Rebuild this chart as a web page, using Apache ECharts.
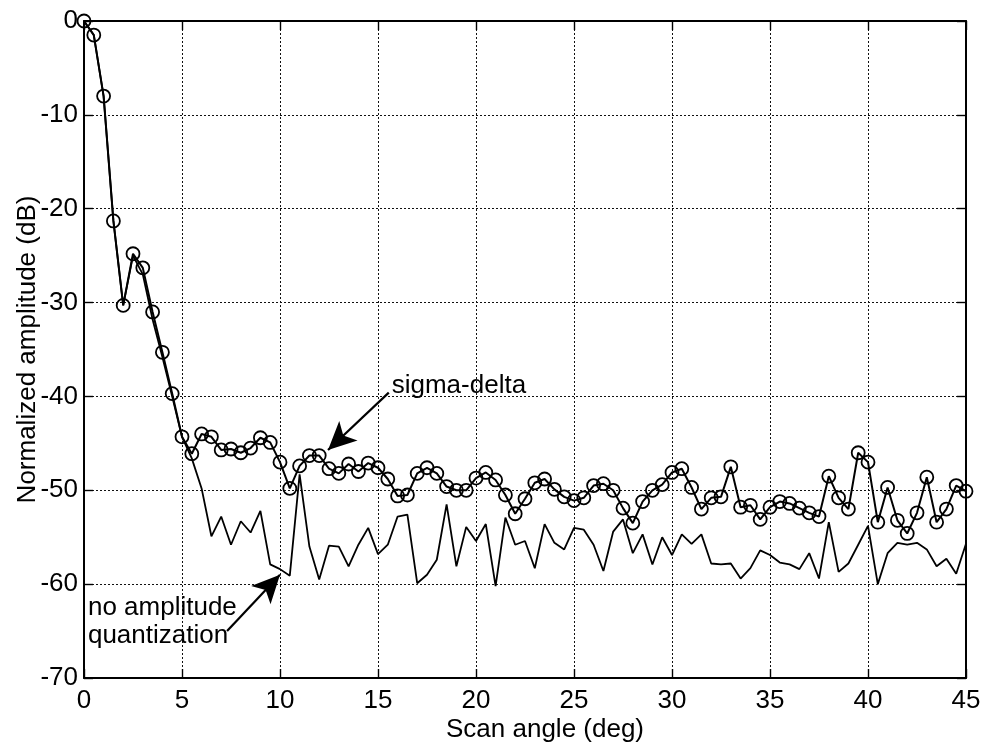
<!DOCTYPE html>
<html>
<head>
<meta charset="utf-8">
<script src="https://cdn.jsdelivr.net/npm/echarts@6/dist/echarts.min.js"></script>
<style>
html,body{margin:0;padding:0;background:#fff;}
#chart{width:988px;height:743px;}
</style>
</head>
<body>
<div id="chart"></div>
<script>
// Scan angle (deg)
const angles = [0,0.5,1,1.5,2,2.5,3,3.5,4,4.5,5,5.5,6,6.5,7,7.5,8,8.5,9,9.5,10,10.5,11,11.5,12,12.5,13,13.5,14,14.5,15,15.5,16,16.5,17,17.5,18,18.5,19,19.5,20,20.5,21,21.5,22,22.5,23,23.5,24,24.5,25,25.5,26,26.5,27,27.5,28,28.5,29,29.5,30,30.5,31,31.5,32,32.5,33,33.5,34,34.5,35,35.5,36,36.5,37,37.5,38,38.5,39,39.5,40,40.5,41,41.5,42,42.5,43,43.5,44,44.5,45];
// sigma-delta (circles)
const sigmaDelta = [0,-1.5,-8.0,-21.3,-30.3,-24.8,-26.3,-31.0,-35.3,-39.7,-44.3,-46.1,-44.0,-44.3,-45.7,-45.6,-46.0,-45.5,-44.4,-44.9,-47.0,-49.8,-47.4,-46.3,-46.3,-47.7,-48.2,-47.2,-48.0,-47.1,-47.6,-48.8,-50.6,-50.5,-48.2,-47.6,-48.2,-49.6,-50.0,-50.0,-48.7,-48.1,-48.9,-50.5,-52.5,-50.9,-49.2,-48.8,-49.9,-50.7,-51.1,-50.8,-49.5,-49.3,-50.0,-51.9,-53.5,-51.2,-50.0,-49.4,-48.1,-47.7,-49.7,-52.0,-50.8,-50.7,-47.5,-51.8,-51.6,-53.1,-51.8,-51.2,-51.4,-51.9,-52.4,-52.8,-48.5,-50.8,-52.0,-46.0,-47.0,-53.4,-49.7,-53.2,-54.6,-52.4,-48.6,-53.4,-52.0,-49.5,-50.1];
// no amplitude quantization (plain line)
const noQuant = [0,-1.5,-8.0,-21.3,-30.3,-25.0,-27.0,-31.8,-35.8,-40.0,-44.3,-46.6,-49.8,-54.9,-52.8,-55.8,-53.3,-54.5,-52.2,-57.9,-58.4,-59.1,-48.3,-56.0,-59.5,-55.9,-56.0,-58.1,-55.8,-54.0,-56.8,-55.8,-52.8,-52.6,-59.9,-59.0,-57.4,-51.5,-58.1,-53.9,-55.4,-53.6,-60.2,-52.9,-55.8,-55.4,-58.3,-53.6,-55.6,-56.3,-54.0,-54.2,-55.8,-58.6,-54.4,-53.1,-56.7,-54.7,-57.9,-55.0,-56.9,-54.7,-55.7,-54.7,-57.8,-57.9,-57.8,-59.4,-58.3,-56.4,-56.9,-57.7,-57.9,-58.4,-56.7,-59.4,-53.4,-58.7,-57.8,-55.8,-53.8,-60.0,-56.7,-55.6,-55.8,-55.6,-56.3,-58.1,-57.3,-58.9,-55.7];
// annotation texts and arrow endpoints (data coords)
const labelSigma = 'sigma-delta';
const labelNoQuant = ['no amplitude', 'quantization'];
const arrowSigma = [[15.55, -39.6], [12.45, -45.7]];
const arrowNoQuant = [[7.3, -65.0], [10.0, -59.0]];
const xTicks = {min: 0, max: 45, interval: 5};
const yTicks = {min: -70, max: 0, interval: 10};

const FONT = '"Liberation Sans", Arial, Helvetica, sans-serif';
const chart = echarts.init(document.getElementById('chart'), null, {renderer: 'canvas'});

const gridLine = {show: true, lineStyle: {color: '#111', width: 1, type: [2, 2]}};
const axisLineS = {show: true, onZero: false, lineStyle: {color: '#000', width: 2}};
const tickS = {show: true, inside: true, length: 9, lineStyle: {color: '#000', width: 1.4}};

function pairs(xs, ys) { return xs.map((x, i) => [x, ys[i]]); }

const option = {
  animation: false,
  backgroundColor: '#fff',
  grid: {left: 84, top: 21, width: 882, height: 657, containLabel: false, outerBoundsMode: 'none'},
  xAxis: [
    {type: 'value', min: xTicks.min, max: xTicks.max, interval: xTicks.interval, position: 'bottom',
     name: 'Scan angle (deg)', nameLocation: 'middle', nameGap: 39, nameMoveOverlap: false,
     nameTextStyle: {fontFamily: FONT, fontSize: 26, color: '#000', padding: [0, 0, 0, 40]},
     axisLine: axisLineS, axisTick: tickS,
     axisLabel: {fontFamily: FONT, fontSize: 26, color: '#000', margin: 10},
     splitLine: gridLine},
    {type: 'value', min: xTicks.min, max: xTicks.max, interval: xTicks.interval, position: 'top',
     axisLine: axisLineS, axisTick: tickS, axisLabel: {show: false}, splitLine: {show: false}}
  ],
  yAxis: [
    {type: 'value', min: yTicks.min, max: yTicks.max, interval: yTicks.interval, position: 'left',
     name: 'Normalized amplitude (dB)', nameLocation: 'middle', nameGap: 43, nameMoveOverlap: false,
     nameTextStyle: {fontFamily: FONT, fontSize: 26, color: '#000'},
     axisLine: axisLineS, axisTick: tickS,
     axisLabel: {fontFamily: FONT, fontSize: 26, color: '#000', margin: 6},
     splitLine: gridLine},
    {type: 'value', min: yTicks.min, max: yTicks.max, interval: yTicks.interval, position: 'right',
     axisLine: axisLineS, axisTick: tickS, axisLabel: {show: false}, splitLine: {show: false}}
  ],
  series: [
    {name: 'no amplitude quantization', type: 'line', data: pairs(angles, noQuant),
     showSymbol: false, symbol: 'none', lineStyle: {color: '#000', width: 1.8}, z: 3,
     markLine: {silent: true, symbol: ['none', 'arrow'], symbolSize: [20, 28], label: {show: false},
       lineStyle: {color: '#000', width: 2.2, type: 'solid'},
       data: [[{coord: arrowNoQuant[0]}, {coord: arrowNoQuant[1]}]]}},
    {name: 'sigma-delta', type: 'line', data: pairs(angles, sigmaDelta),
     symbol: 'circle', symbolSize: 13, showAllSymbol: true,
     itemStyle: {color: 'rgba(255,255,255,0)', borderColor: '#000', borderWidth: 1.8},
     lineStyle: {color: '#000', width: 2}, z: 4,
     markLine: {silent: true, symbol: ['none', 'arrow'], symbolSize: [20, 28], label: {show: false},
       lineStyle: {color: '#000', width: 2.2, type: 'solid'},
       data: [[{coord: arrowSigma[0]}, {coord: arrowSigma[1]}]]}}
  ]
};
chart.setOption(option);

// Text annotations placed via data coordinates
const pSig = chart.convertToPixel({xAxisIndex: 0, yAxisIndex: 0}, [15.7, -38.9]);
const pNq1 = chart.convertToPixel({xAxisIndex: 0, yAxisIndex: 0}, [0.2, -62.5]);
const pNq2 = chart.convertToPixel({xAxisIndex: 0, yAxisIndex: 0}, [0.2, -65.5]);
chart.setOption({
  graphic: [
    {type: 'text', x: pSig[0], y: pSig[1], style: {text: labelSigma, font: '26px ' + FONT, fill: '#000', textAlign: 'left', textVerticalAlign: 'middle'}, z: 10},
    {type: 'text', x: pNq1[0], y: pNq1[1], style: {text: labelNoQuant[0], font: '26px ' + FONT, fill: '#000', textAlign: 'left', textVerticalAlign: 'middle'}, z: 10},
    {type: 'text', x: pNq2[0], y: pNq2[1], style: {text: labelNoQuant[1], font: '26px ' + FONT, fill: '#000', textAlign: 'left', textVerticalAlign: 'middle'}, z: 10}
  ]
});
</script>
</body>
</html>
